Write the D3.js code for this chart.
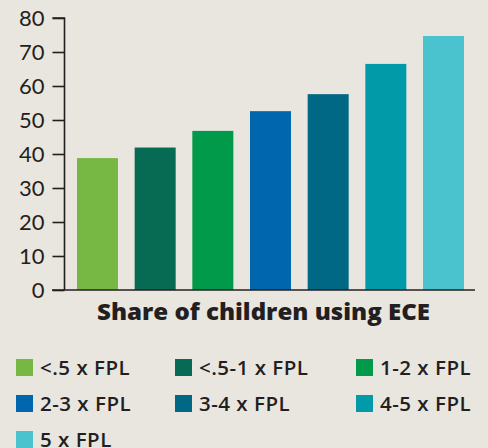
<!DOCTYPE html>
<html>
<head>
<meta charset="utf-8">
<script src="https://cdn.jsdelivr.net/npm/d3@7"></script>
<style>
  html, body { margin: 0; padding: 0; background: #e9e6e0; }
  svg { display: block; }
  text { font-family: Lato, "Open Sans", sans-serif; fill: #231f20; }
</style>
</head>
<body>
<div id="chart"></div>
<script>
// Data
const categories = ["<.5 x FPL", "<.5-1 x FPL", "1-2 x FPL", "2-3 x FPL", "3-4 x FPL", "4-5 x FPL", "5 x FPL"];
const values = [38.8, 41.9, 46.8, 52.6, 57.6, 66.5, 74.7];
const colors = ["#76b843", "#076a52", "#009a4a", "#0066ad", "#006884", "#009aa9", "#4ac3ce"];
const yTicks = [0, 10, 20, 30, 40, 50, 60, 70, 80];
const axisTitle = "Share of children using ECE";

const width = 488, height = 448;

const svg = d3.select("#chart").append("svg")
  .attr("width", width)
  .attr("height", height);

const x = d3.scaleBand()
  .domain(categories)
  .range([65, 476])
  .paddingInner(0.289)
  .paddingOuter(0.208);

const y = d3.scaleLinear()
  .domain([0, 80])
  .range([290, 18]);

// bars
svg.selectAll(".bar")
  .data(categories)
  .enter().append("rect")
  .attr("class", "bar")
  .attr("x", d => x(d))
  .attr("width", x.bandwidth())
  .attr("y", (d, i) => y(values[i]))
  .attr("height", (d, i) => y(0) - y(values[i]))
  .attr("fill", (d, i) => colors[i]);

// y axis
const yAxis = svg.append("g")
  .attr("transform", "translate(64.5,0)")
  .call(d3.axisLeft(y).tickValues(yTicks).tickSize(12).tickPadding(8));
yAxis.select(".domain").attr("stroke", "#231f20").attr("stroke-width", 1.6)
  .attr("d", `M-12,${y(80)}H0V${y(0)}`);
yAxis.selectAll(".tick line").attr("stroke", "#231f20").attr("stroke-width", 1.6);
yAxis.selectAll(".tick text")
  .style("font-family", "Lato, sans-serif")
  .style("font-size", "22px")
  .attr("fill", "#231f20");

// baseline
svg.append("line")
  .attr("x1", 52).attr("x2", 475)
  .attr("y1", y(0)).attr("y2", y(0))
  .attr("stroke", "#231f20")
  .attr("stroke-width", 1.6);

// axis title
svg.append("text")
  .attr("x", 97)
  .attr("y", 320)
  .attr("textLength", 333)
  .attr("lengthAdjust", "spacingAndGlyphs")
  .style("font-family", "'Open Sans', sans-serif")
  .style("font-size", "22px")
  .style("font-weight", "800")
  .text(axisTitle);

// legend
const colX = [16, 175, 356];
const legend = svg.selectAll(".leg")
  .data(categories)
  .enter().append("g")
  .attr("class", "leg")
  .attr("transform", (d, i) => `translate(${colX[i % 3]},${359 + Math.floor(i / 3) * 36})`);

legend.append("rect")
  .attr("width", 17)
  .attr("height", 17)
  .attr("fill", (d, i) => colors[i]);

legend.append("text")
  .attr("x", 24)
  .attr("y", 16)
  .style("font-family", "'Open Sans', sans-serif")
  .style("font-size", "20.5px")
  .style("font-weight", "600")
  .style("letter-spacing", "0.5px")
  .text(d => d);
</script>
</body>
</html>
